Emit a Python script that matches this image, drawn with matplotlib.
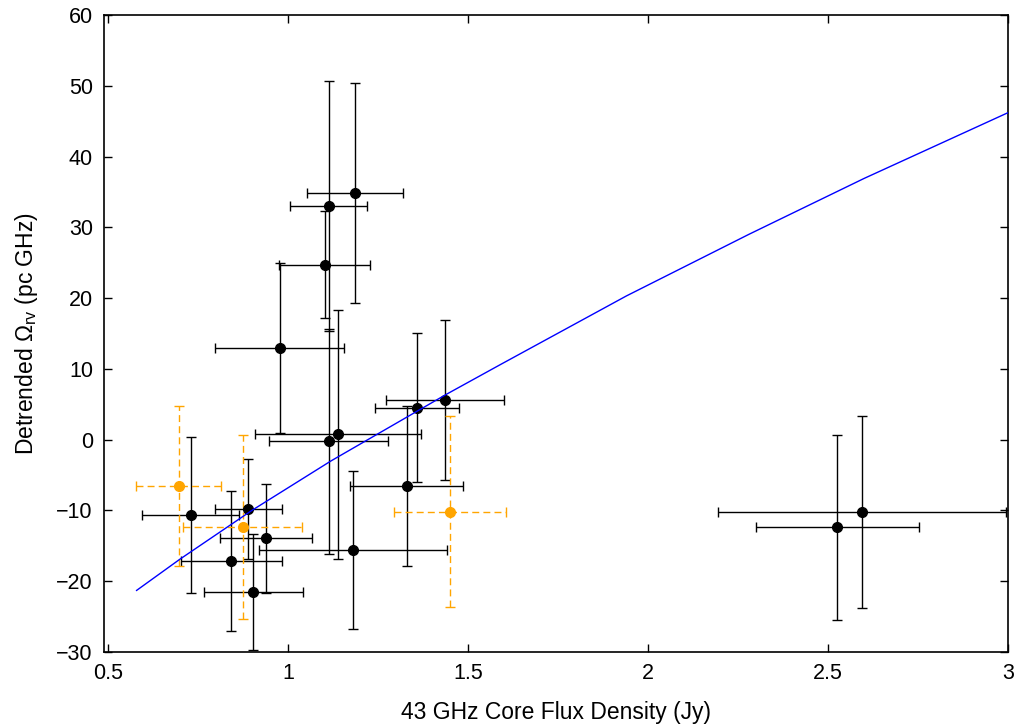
import matplotlib
matplotlib.use("Agg")
import matplotlib.pyplot as plt

plt.rcParams['font.family'] = ['Liberation Sans', 'DejaVu Sans']
plt.rcParams['mathtext.fontset'] = 'custom'
plt.rcParams['mathtext.rm'] = 'Liberation Sans'
plt.rcParams['mathtext.it'] = 'Liberation Sans:italic'

# black sample
flux = [0.73, 0.89, 0.843, 0.904, 0.939, 1.181, 1.33, 1.358, 1.436,
        1.186, 1.114, 1.102, 0.977, 1.113, 1.14, 2.526, 2.595]
flux_err = [0.135, 0.093, 0.14, 0.137, 0.127, 0.26, 0.157, 0.116, 0.163,
            0.133, 0.107, 0.127, 0.18, 0.165, 0.23, 0.227, 0.40]
omega = [-10.6, -9.8, -17.2, -21.5, -13.9, -15.6, -6.6, 4.5, 5.6,
         34.85, 33.0, 24.7, 12.9, -0.2, 0.75, -12.4, -10.2]
omega_err = [11.0, 7.0, 9.9, 8.2, 7.7, 11.2, 11.3, 10.5, 11.3,
             15.5, 17.7, 7.55, 12.0, 15.9, 17.6, 13.1, 13.6]

# orange sample
flux_o = [0.697, 0.875, 1.451]
flux_o_err = [0.118, 0.165, 0.155]
omega_o = [-6.6, -12.4, -10.2]
omega_o_err = [11.3, 13.0, 13.5]

# fitted curve
fit_x = [0.58, 0.70, 0.90, 1.12, 1.44, 1.59, 1.94, 2.28, 2.60, 3.0]
fit_y = [-21.3, -16.9, -10.0, -3.0, 6.4, 10.6, 20.3, 29.0, 36.9, 46.2]

fig = plt.figure(figsize=(10.22, 7.26), dpi=100)
ax = fig.add_axes([104 / 1022, 1 - 652 / 726, (1008 - 104) / 1022, (652 - 15) / 726])

ax.plot(fit_x, fit_y, color='#0000ff', lw=1.0, zorder=3)

ax.errorbar(flux, omega, xerr=flux_err, yerr=omega_err, fmt='o', color='black',
            ms=7, elinewidth=1.0, capsize=3.5, capthick=1.0, ecolor='black', zorder=2)

eb = ax.errorbar(flux_o, omega_o, xerr=flux_o_err, yerr=omega_o_err, fmt='o', color='orange',
                 ms=7, elinewidth=1.0, capsize=3.5, capthick=1.0, ecolor='orange', zorder=2)
for lc in eb[2]:
    lc.set_linestyle((0, (5, 3)))

ax.set_xlim(0.4895, 3)
ax.set_ylim(-30, 60)
ax.set_xticks([0.5, 1, 1.5, 2, 2.5, 3])
ax.set_xticklabels(['0.5', '1', '1.5', '2', '2.5', '3'])
ax.set_yticks(range(-30, 61, 10))
ax.tick_params(direction='in', top=True, right=True, length=6, width=1, labelsize=15.5, pad=8)
for s in ax.spines.values():
    s.set_linewidth(1.2)

ax.set_xlabel('43 GHz Core Flux Density (Jy)', fontsize=16.5, labelpad=12)
ax.set_ylabel(r'Detrended $\Omega_{\mathrm{rv}}$ (pc GHz)', fontsize=16.5, labelpad=12)

fig.savefig('out.png', dpi=100)
